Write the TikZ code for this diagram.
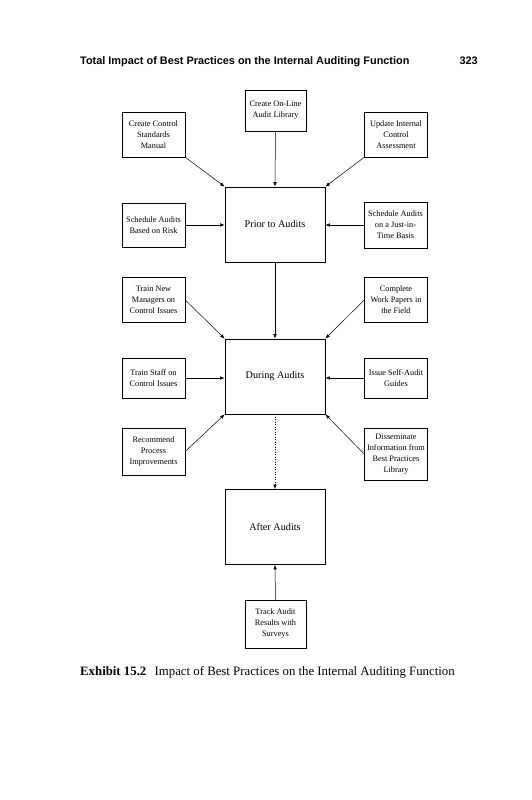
\documentclass[tikz,border=0pt]{standalone}
\usepackage{fontspec}
\setmainfont{Liberation Serif}
\newfontfamily\hdrfont{Liberation Sans}
\usetikzlibrary{arrows.meta}
\begin{document}
\begin{tikzpicture}[x=1pt,y=-1pt,
  sbox/.style={draw,line width=0.6pt,rectangle,inner sep=1pt,minimum width=63pt,minimum height=45pt,align=center,font=\fontsize{8.3}{11}\selectfont},
  bbox/.style={draw,line width=0.7pt,rectangle,minimum width=100pt,minimum height=75pt,font=\fontsize{10.2}{12}\selectfont},
  arr/.style={line width=0.5pt,-{Latex[length=4.5pt,width=3.5pt]}}
]
\useasboundingbox[fill=white] (0,0) rectangle (531,800);
% header
\node[anchor=base west,font=\hdrfont\bfseries\fontsize{10.9}{12}\selectfont,inner sep=0] (hdr) at (80,64) {Total Impact of Best Practices on the Internal Auditing Function};
\node[anchor=base east,font=\hdrfont\bfseries\fontsize{10.9}{12}\selectfont,inner sep=0] (pg) at (478,64) {323};
% boxes
\node[sbox,minimum width=61pt,minimum height=41pt] (lib) at (275.5,110.5) {Create On-Line\\Audit Library};
\node[sbox] (ccs) at (153.5,134.5) {Create Control\\Standards\\Manual};
\node[sbox] (upd) at (396,134.5) {Update Internal\\Control\\Assessment};
\node[bbox] (prior) at (275,224.5) {Prior to Audits};
\node[sbox,minimum height=44pt] (sbr) at (153.5,225) {Schedule Audits\\Based on Risk};
\node[sbox,minimum height=46pt] (jit) at (395.5,225) {Schedule Audits\\on a Just-in-\\Time Basis};
\node[sbox] (tnm) at (153.5,300) {Train New\\Managers on\\Control Issues};
\node[sbox] (cwp) at (396,300) {Complete\\Work Papers in\\the Field};
\node[bbox] (during) at (275,376.5) {During Audits};
\node[sbox,minimum height=40pt] (tsc) at (153.5,378) {Train Staff on\\Control Issues};
\node[sbox,minimum height=40pt] (isa) at (396,378) {Issue Self-Audit\\Guides};
\node[sbox,minimum height=47pt] (rpi) at (153.5,451.5) {Recommend\\Process\\Improvements};
\node[sbox,minimum height=52pt] (dis) at (396,454) {Disseminate\\Information from\\Best Practices\\Library};
\node[bbox] (after) at (275,527) {After Audits};
\node[sbox,minimum width=61pt,minimum height=48pt] (track) at (275.5,624) {Track Audit\\Results with\\Surveys};
% connectors
\draw[arr] (ccs.south east) -- (prior.north west);
\draw[arr] (lib.south) -- (prior.north);
\draw[arr] (upd.south west) -- (prior.north east);
\draw[arr] (sbr.east) -- (sbr.east -| prior.west);
\draw[arr] (jit.west) -- (jit.west -| prior.east);
\draw[arr] (prior.south) -- (during.north);
\draw[arr] (tnm.east) -- (during.north west);
\draw[arr] (cwp.west) -- (during.north east);
\draw[arr] (tsc.east) -- (tsc.east -| during.west);
\draw[arr] (isa.west) -- (isa.west -| during.east);
\draw[arr] (rpi.east) -- (during.south west);
\draw[arr] (dis.west) -- (during.south east);
\draw[arr,dotted] (during.south) -- (after.north);
\draw[arr] (track.north) -- (after.south);
% caption
\node[anchor=base west,inner sep=0,font=\fontsize{12.8}{14}\selectfont] (cap) at (80,675) {\textbf{Exhibit 15.2}\hspace{0.4em} Impact of Best Practices on the Internal Auditing Function};
\end{tikzpicture}
\end{document}
